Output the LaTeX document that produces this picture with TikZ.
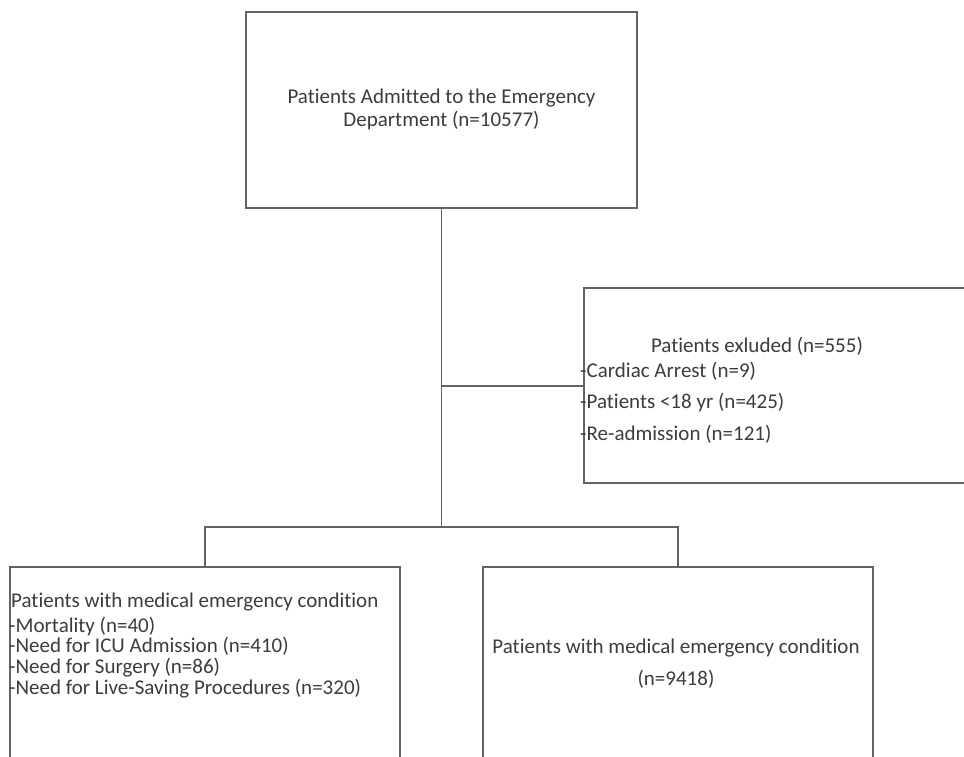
\documentclass[tikz,border=0pt]{standalone}
\usepackage{fontspec}
\setmainfont[Ligatures=NoCommon]{Carlito}
\definecolor{txt}{RGB}{60,60,60}
\definecolor{ln}{RGB}{100,100,100}
\begin{document}
\begin{tikzpicture}[x=1pt,y=-1pt,
  box/.style={draw=ln,line width=1.5pt,rectangle,inner sep=0pt},
  conn/.style={draw=ln,line width=1.5pt},
  lbl/.style={text=txt,font=\fontsize{21}{23}\selectfont,inner sep=0pt,anchor=base},
  lbll/.style={lbl,anchor=base west}]
\useasboundingbox (0,0) rectangle (964,757);
\clip (0,0) rectangle (964,757);
\fill[white] (0,0) rectangle (964,757);
% boxes
\node[box,minimum width=391pt,minimum height=196pt] (top) at (441.5,110) {};
\node[box,minimum width=384pt,minimum height=195pt] (excl) at (776,385.5) {};
\node[box,minimum width=390pt,minimum height=240pt] (left) at (205,687) {};
\node[box,minimum width=390pt,minimum height=240pt] (right) at (678,687) {};
% connector junctions
\coordinate (j1) at (441.5,386);
\coordinate (j2) at (441.5,527);
\draw[conn] (top.south) -- (j2);
\draw[conn] (j1) -- (j1 -| excl.west);
\draw[conn] (left.north) |- (j2) -| (right.north);
% texts
\node[lbl] (t1) at (441.5,104) {Patients Admitted to the Emergency};
\node[lbl] (t2) at (441.5,127) {Department (n=10577)};
\node[lbl] (e0) at (757,352) {Patients exluded (n=555)};
\node[lbll] (e1) at (580,377) {-Cardiac Arrest (n=9)};
\node[lbll] (e2) at (580,408) {-Patients <18 yr (n=425)};
\node[lbll] (e3) at (580,440) {-Re-admission (n=121)};
\node[lbll] (l0) at (11,607) {Patients with medical emergency condition};
\node[lbll] (l1) at (9,632) {-Mortality (n=40)};
\node[lbll] (l2) at (9,652) {-Need for ICU Admission (n=410)};
\node[lbll] (l3) at (9,673) {-Need for Surgery (n=86)};
\node[lbll] (l4) at (9,694) {-Need for Live-Saving Procedures (n=320)};
\node[lbl] (r0) at (676,653) {Patients with medical emergency condition};
\node[lbl] (r1) at (676,685) {(n=9418)};
\end{tikzpicture}
\end{document}
